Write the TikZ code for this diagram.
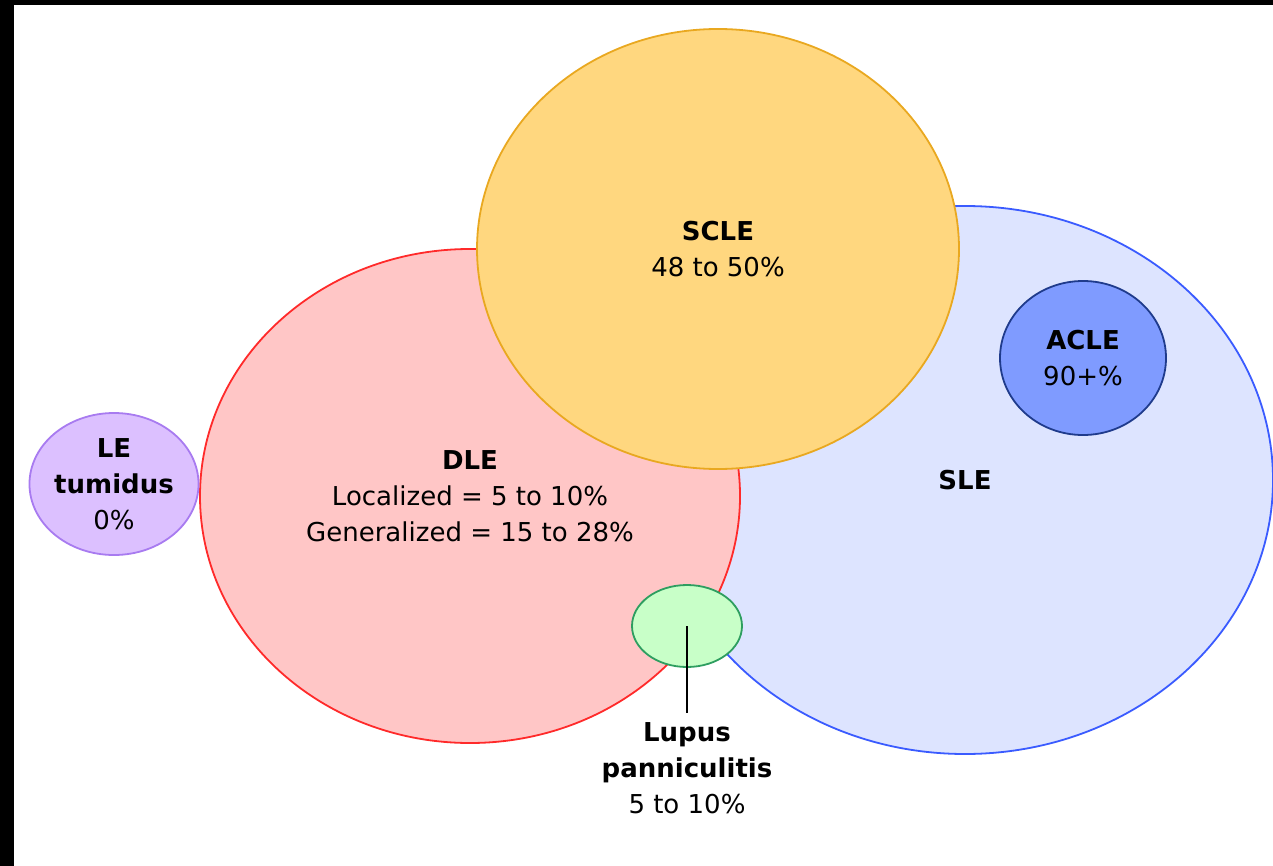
\documentclass[tikz,border=0pt]{standalone}
\usepackage{fontspec}
\setmainfont{DejaVu Sans}
\usepackage{tikz}
\usetikzlibrary{shapes.geometric}

\definecolor{slefill}{HTML}{DDE4FF}
\definecolor{sledraw}{HTML}{3A5BFF}
\definecolor{dlefill}{HTML}{FFC6C6}
\definecolor{dledraw}{HTML}{FF2A2A}
\definecolor{sclefill}{HTML}{FFD77F}
\definecolor{scledraw}{HTML}{E9A820}
\definecolor{aclefill}{HTML}{7F9BFF}
\definecolor{acledraw}{HTML}{1F3B8C}
\definecolor{lpfill}{HTML}{C8FFC8}
\definecolor{lpdraw}{HTML}{2E9E60}
\definecolor{letfill}{HTML}{DCC0FF}
\definecolor{letdraw}{HTML}{A87BF0}

\begin{document}
\begin{tikzpicture}[x=0.5pt,y=-0.5pt,
    zona/.style={ellipse, draw, line width=0.9pt, inner sep=0pt, align=center,
      font=\fontsize{13}{18}\selectfont},
    etiqueta/.style={align=center, inner sep=1pt, font=\fontsize{13}{18}\selectfont}]
    \useasboundingbox (0,0) rectangle (1273,866);
    % Marco negro
    \fill[black] (0,0) rectangle (1273,5);
    \fill[black] (0,0) rectangle (14,866);

    % SLE
    \node[zona, draw=sledraw, fill=slefill, minimum width=308pt, minimum height=274pt]
      (sle) at (965,480) {\textbf{SLE}};
    % DLE
    \node[zona, draw=dledraw, fill=dlefill, minimum width=270pt, minimum height=247pt]
      (dle) at (470,496) {\textbf{DLE}\\Localized = 5 to 10\%\\Generalized = 15 to 28\%};
    % SCLE
    \node[zona, draw=scledraw, fill=sclefill, minimum width=241pt, minimum height=220pt]
      (scle) at (718,249) {\textbf{SCLE}\\48 to 50\%};
    % ACLE
    \node[zona, draw=acledraw, fill=aclefill, minimum width=83pt, minimum height=77pt]
      (acle) at (1083,358) {\textbf{ACLE}\\90+\%};
    % Lupus panniculitis
    \node[zona, draw=lpdraw, fill=lpfill, minimum width=55pt, minimum height=41pt]
      (lp) at (687,626) {};
    \node[etiqueta] (lpl) at (687,768) {\textbf{Lupus}\\\textbf{panniculitis}\\5 to 10\%};
    \coordinate (lpend) at (687,713);
    \draw[line width=0.75pt] (lp.center) -- (lpend);
    % LE tumidus
    \node[zona, draw=letdraw, fill=letfill, minimum width=82pt, minimum height=71pt]
      (let) at (114,484) {\textbf{LE}\\\textbf{tumidus}\\0\%};
\end{tikzpicture}
\end{document}
